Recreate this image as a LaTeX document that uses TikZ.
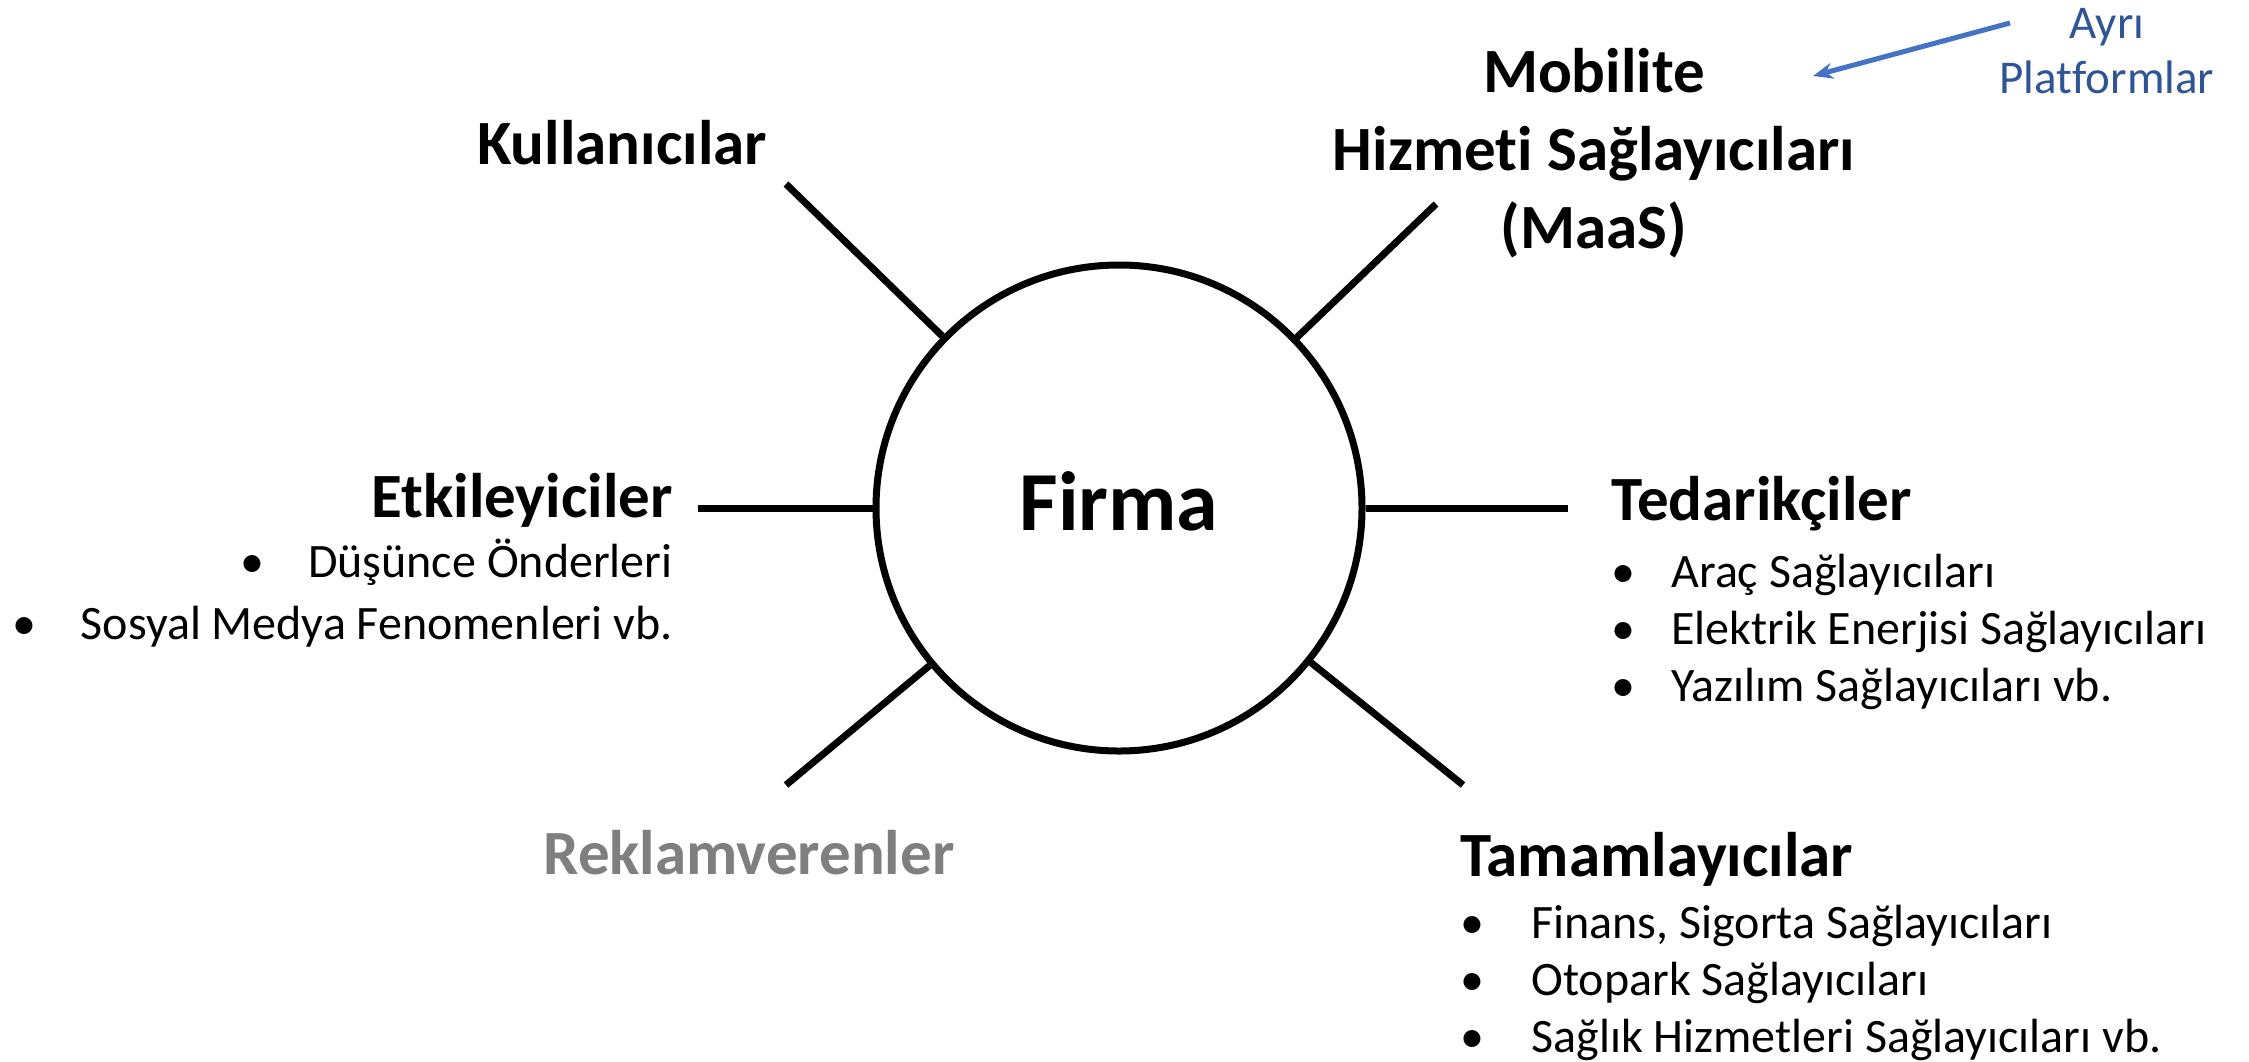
\documentclass[tikz,border=0pt]{standalone}
\usepackage{fontspec}
\setmainfont{Carlito}[Ligatures=NoCommon]
\usetikzlibrary{arrows.meta}

\definecolor{platblue}{RGB}{47,85,151}
\definecolor{arrowblue}{RGB}{68,114,196}
\definecolor{adgray}{RGB}{127,127,127}

\begin{document}
\begin{tikzpicture}[x=0.5pt, y=-0.5pt,
  head/.style={font=\fontsize{31.5}{39}\selectfont\bfseries, inner sep=0pt},
  items/.style={font=\fontsize{24}{28.5}\selectfont, inner sep=0pt},
  spoke/.style={line width=3.5pt}]

\def\bul#1{\makebox[#1][l]{•}}

\path[use as bounding box, fill=white] (0, 0) rectangle (2249, 1061);

\node[circle, draw=black, line width=3.5pt, fill=white, minimum size=243pt, inner sep=0pt, text depth=7pt, font=\fontsize{42}{50}\selectfont\bfseries] (F) at (1119, 508) {Firma};

\coordinate (K1) at (786, 184);
\coordinate (M1) at (1436, 204);
\coordinate (E1) at (698, 508);
\coordinate (T1) at (1568, 508);
\coordinate (R1) at (786, 785);
\coordinate (C1) at (1463, 785);

\draw[spoke] (F) -- (K1);
\draw[spoke] (F) -- (M1);
\draw[spoke] (F) -- (E1);
\draw[spoke] (F) -- (T1);
\draw[spoke] (F) -- (R1);
\draw[spoke] (F) -- (C1);

\node[head, anchor=base] (K) at (622, 164) {Kullanıcılar};
\node[head, anchor=base, align=center] (M) at (1594, 248) {Mobilite\\Hizmeti Sağlayıcıları\\(MaaS)};
\node[head, anchor=base east] (E) at (673, 517) {Etkileyiciler};
\node[items, font=\fontsize{24}{31}\selectfont, anchor=base east, align=right] (EL) at (673, 639) {\bul{34pt}Düşünce Önderleri\\\bul{34pt}Sosyal Medya Fenomenleri vb.};
\node[head, anchor=base west] (T) at (1611, 520) {Tedarikçiler};
\node[items, anchor=base west, align=left] (TL) at (1611, 701) {\bul{30pt}Araç Sağlayıcıları\\\bul{30pt}Elektrik Enerjisi Sağlayıcıları\\\bul{30pt}Yazılım Sağlayıcıları vb.};
\node[head, anchor=base, text=adgray] (R) at (749, 874) {Reklamverenler};
\node[head, anchor=base west] (C) at (1460, 876) {Tamamlayıcılar};
\node[items, anchor=base west, align=left] (CL) at (1460, 1052) {\bul{35.5pt}Finans, Sigorta Sağlayıcıları\\\bul{35.5pt}Otopark Sağlayıcıları\\\bul{35.5pt}Sağlık Hizmetleri Sağlayıcıları vb.};

\node[font=\fontsize{23.5}{27.5}\selectfont, text=platblue, align=center, anchor=base, inner sep=0pt] (A) at (2107, 93) {Ayrı\\Platformlar};
\coordinate (A0) at (2010, 23);
\coordinate (A1) at (1813, 76);
\draw[-{Stealth[length=10pt, width=8pt]}, draw=arrowblue, fill=arrowblue, line width=2.5pt] (A0) -- (A1);

\end{tikzpicture}
\end{document}
